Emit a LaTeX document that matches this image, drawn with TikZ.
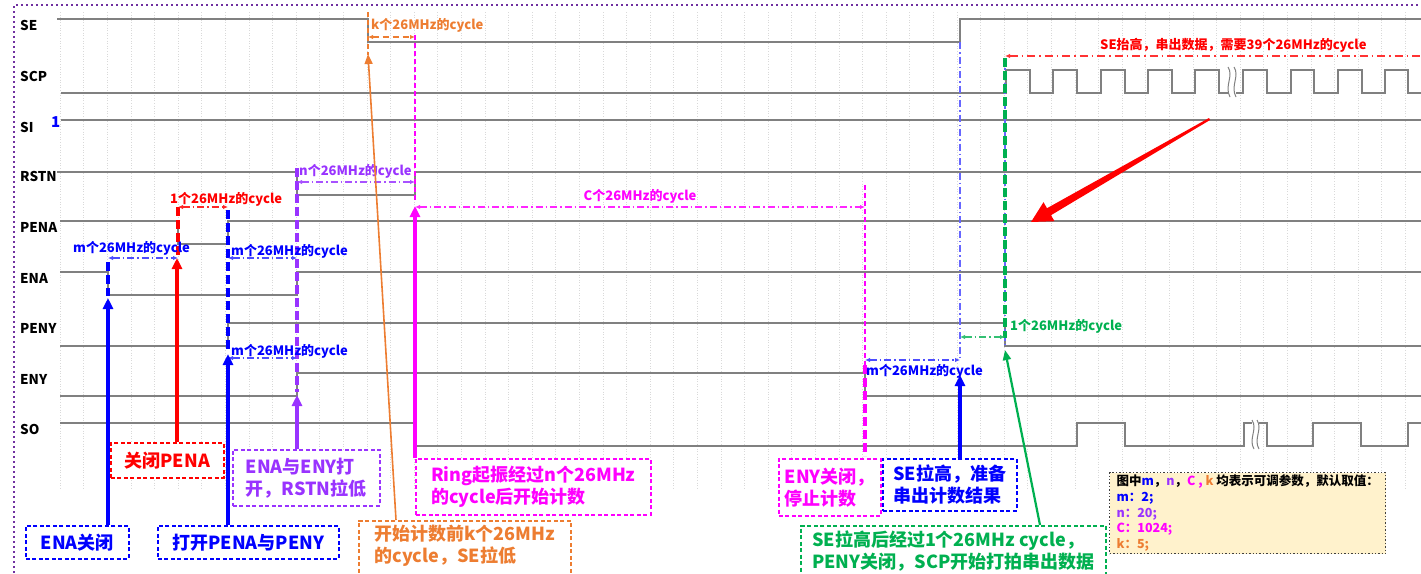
\documentclass[tikz,border=0pt]{standalone}
\usepackage{fontspec}
\setmainfont{Noto Sans CJK SC}
\usetikzlibrary{arrows.meta}

\definecolor{cBlue}{RGB}{0,0,255}
\definecolor{cRed}{RGB}{255,0,0}
\definecolor{cPurple}{RGB}{153,51,255}
\definecolor{cMagenta}{RGB}{255,0,255}
\definecolor{cOrange}{RGB}{237,125,49}
\definecolor{cGreen}{RGB}{0,176,80}
\definecolor{cWave}{RGB}{128,128,128}
\definecolor{cFrame}{RGB}{112,48,160}
\definecolor{cNote}{RGB}{255,242,204}

\begin{document}
\begin{tikzpicture}[
    x=1pt, y=-1pt,
    wave/.style={cWave, line width=1.6pt},
    siglabel/.style={anchor=west, inner sep=0pt, font=\bfseries\fontsize{13.5}{16}\selectfont},
    cyc/.style={anchor=west, inner sep=0pt, font=\bfseries\fontsize{13}{15}\selectfont},
    dim/.style={{Latex[length=5pt,width=4.5pt]}-{Latex[length=5pt,width=4.5pt]}, line width=1.2pt, dash pattern=on 7pt off 3pt on 1.5pt off 3pt},
    vthin/.style={line width=1.4pt, dash pattern=on 5pt off 3pt},
    vthick/.style={line width=3.2pt, dash pattern=on 9pt off 4pt},
    callout/.style={-{Triangle[length=11pt,width=10pt]}, line width=3.2pt},
    box/.style={draw, line width=1.6pt, dash pattern=on 4pt off 2.5pt, fill=white, anchor=north west, align=left, inner xsep=8pt, inner ysep=0pt, font=\bfseries\fontsize{18}{22}\selectfont},
    notebox/.style={draw=black!75, fill=cNote, line width=1.4pt, dotted, anchor=north west, align=left, inner xsep=4pt, inner ysep=0pt, minimum width=276pt, minimum height=81pt, font=\bfseries\fontsize{12.5}{15.7}\selectfont}
]
    \useasboundingbox (0,0) rectangle (1421,573);

    % frame and faint grid
    \draw[cFrame, line width=2pt, dash pattern=on 2pt off 3pt] (14,573) -- (14,5) -- (1421,5);
    \foreach \i in {0,...,57}
        \draw[gray!30, line width=0.6pt, dotted] ({60+23.6*\i},12) -- ({60+23.6*\i},490);

    % signal names
    \foreach \name/\y in {SE/25,SCP/76,SI/127,RSTN/176,PENA/227,ENA/278,PENY/328,ENY/379,SO/429}
        \node[siglabel] (lbl\name) at (20,\y) {\name};
    \node[siglabel, text=cBlue, font=\bfseries\fontsize{15}{16}\selectfont] (lblOne) at (51,122) {1};

    % waveforms
    \draw[wave] (57,19) -- (368,19) -- (368,42) -- (960,42) -- (960,19) -- (1421,19);
    \draw[wave] (61,93) -- (1006,93)
        \foreach \a/\b in {1006/1030,1053/1077,1101/1125,1148/1172,1195/1219} { -- (\a,93) -- (\a,70) -- (\b,70) -- (\b,93) } -- (1228,93);
    \draw[wave] (1236,93)
        \foreach \a/\b in {1243/1267,1291/1314,1338/1362,1385/1408} { -- (\a,93) -- (\a,70) -- (\b,70) -- (\b,93) } -- (1421,93);
    \draw[wave, line width=1pt] (1228,67) .. controls (1234,76) and (1224,86) .. (1230,97);
    \draw[wave, line width=1pt] (1234,67) .. controls (1240,76) and (1230,86) .. (1236,97);
    \draw[wave] (61,120) -- (1421,120);
    \draw[wave] (57,172) -- (297,172) -- (297,195) -- (415,195) -- (415,172) -- (1421,172);
    \draw[wave] (60,221) -- (178,221) -- (178,244) -- (228,244) -- (228,221) -- (1421,221);
    \draw[wave] (60,272) -- (108,272) -- (108,295) -- (297,295) -- (297,272) -- (1421,272);
    \draw[wave] (60,346) -- (228,346) -- (228,323) -- (1005,323) -- (1005,346) -- (1421,346);
    \draw[wave] (60,396) -- (297,396) -- (297,373) -- (865,373) -- (865,396) -- (1421,396);
    \draw[wave] (60,423) -- (415,423) -- (415,446) -- (1077,446) -- (1077,423) -- (1125,423) -- (1125,446)
        -- (1244,446) -- (1244,423) -- (1252,423);
    \draw[wave] (1259,423) -- (1267,423) -- (1267,446) -- (1313,446) -- (1313,423) -- (1361,423) -- (1361,446)
        -- (1408,446) -- (1408,423) -- (1421,423);
    \draw[wave, line width=1pt] (1252,420) .. controls (1258,429) and (1248,439) .. (1254,449);
    \draw[wave, line width=1pt] (1257,420) .. controls (1263,429) and (1253,439) .. (1259,449);

    % edge markers
    \draw[vthick, cBlue] (108,262) -- (108,296);
    \draw[vthick, cRed] (178,207) -- (178,255);
    \draw[vthick, cBlue] (228,210) -- (228,350);
    \draw[vthick, cPurple] (297,168) -- (297,392);
    \draw[vthin, cOrange] (368,12) -- (368,55);
    \draw[vthin, cMagenta] (415,35) -- (415,200);
    \draw[vthin, cMagenta] (865,185) -- (865,365);
    \draw[vthick, cMagenta] (865,365) -- (865,456);
    \draw[cBlue!60, line width=1.2pt, dash pattern=on 7pt off 3pt on 1.5pt off 3pt] (960,42) -- (960,360);
    \draw[cBlue!60, line width=1.2pt, dash pattern=on 7pt off 3pt on 1.5pt off 3pt] (1005,58) -- (1005,345);
    \draw[vthick, cGreen] (1005,58) -- (1005,338);

    % cycle counts
    \draw[dim, cOrange, dash pattern=on 6pt off 4pt] (368,37) -- (415,37);
    \node[cyc, text=cOrange] (cycK) at (371,25) {k个26MHz的cycle};
    \draw[dim, cPurple!85] (297,182) -- (415,182);
    \node[cyc, text=cPurple] (cycN) at (299,171) {n个26MHz的cycle};
    \draw[dim, cRed!85] (178,207) -- (228,207);
    \node[cyc, text=cRed] (cycOne) at (170,199) {1个26MHz的cycle};
    \draw[dim, cBlue!70] (108,258) -- (178,258);
    \node[cyc, text=cBlue] (cycMa) at (73,248) {m个26MHz的cycle};
    \draw[dim, cBlue!70] (228,258) -- (297,258);
    \node[cyc, text=cBlue] (cycMb) at (231,251) {m个26MHz的cycle};
    \draw[dim, cBlue!70] (228,358) -- (297,358);
    \node[cyc, text=cBlue] (cycMc) at (231,351) {m个26MHz的cycle};
    \draw[dim, cMagenta!85] (415,207) -- (865,207);
    \node[cyc, text=cMagenta, anchor=center] (cycC) at (640,196) {C个26MHz的cycle};
    \draw[dim, cBlue!70] (865,360) -- (960,360);
    \node[cyc, text=cBlue] (cycMd) at (866,371) {m个26MHz的cycle};
    \draw[dim, cGreen!80] (960,337) -- (1005,337);
    \node[cyc, text=cGreen] (cycG) at (1010,326) {1个26MHz的cycle};
    \draw[{Latex[length=5pt,width=4.5pt]}-, cRed!80, line width=1.2pt, dash pattern=on 8pt off 4pt on 1.5pt off 4pt] (1005,56) -- (1421,56);
    \node[cyc, text=cRed] (cycSCP) at (1100,45) {SE抬高，串出数据，需要39个26MHz的cycle};

    % big red pointer
    \fill[cRed] (1209,118) -- (1047,208.2) -- (1043.5,202.2) -- (1031,222) -- (1054.5,221.2) -- (1051,215.2) -- (1210,120) -- cycle;

    % arrow targets
    \coordinate (aENAoff) at (108,298);
    \coordinate (aPENAoff) at (177,258);
    \coordinate (aPENon) at (228,354);
    \coordinate (aRSTN) at (297,395);
    \coordinate (aRing) at (415,206);
    \coordinate (aSElow) at (368,54);
    \coordinate (aSEhigh) at (960,375);
    \coordinate (aSCP) at (1005,350);

    % callout boxes
    \node[box, draw=cBlue, text=cBlue, minimum width=103pt, minimum height=33pt] (bENAoff) at (25,525) {ENA关闭};
    \node[box, draw=cRed, text=cRed, minimum width=113pt, minimum height=35pt] (bPENAoff) at (110,442) {关闭PENA};
    \node[box, draw=cBlue, text=cBlue, minimum width=181pt, minimum height=33pt] (bPENon) at (157,525) {打开PENA与PENY};
    \node[box, draw=cPurple, text=cPurple, minimum width=147pt, minimum height=56pt] (bRSTN) at (232,449) {ENA与ENY打\\开，RSTN拉低};
    \node[box, draw=cMagenta, text=cMagenta, minimum width=235pt, minimum height=56pt] (bRing) at (415,458) {Ring起振经过n个26MHz\\的cycle后开始计数};
    \node[box, draw=cOrange, text=cOrange, minimum width=212pt, inner ysep=4pt] (bSElow) at (358,520) {开始计数前k个26MHz\\的cycle，SE拉低\\~};
    \node[box, draw=cMagenta, text=cMagenta, minimum width=102pt, minimum height=57pt, inner xsep=6pt] (bENYoff) at (778,458) {ENY关闭，\\停止计数};
    \node[box, draw=cBlue, text=cBlue, minimum width=134pt, minimum height=52pt] (bSEhigh) at (882,458) {SE拉高，准备\\串出计数结果};
    \node[box, draw=cGreen, text=cGreen, minimum width=305pt, inner ysep=5pt] (bSCP) at (800,525) {SE拉高后经过1个26MHz cycle，\\PENY关闭，SCP开始打拍串出数据\\~};

    \draw[callout, cBlue] (bENAoff.north -| aENAoff) -- (aENAoff);
    \draw[callout, cRed] (bPENAoff.north -| aPENAoff) -- (aPENAoff);
    \draw[callout, cBlue] (bPENon.north -| aPENon) -- (aPENon);
    \draw[callout, cPurple] (bRSTN.north -| aRSTN) -- (aRSTN);
    \draw[callout, cMagenta] (bRing.north west) -- (aRing);
    \draw[callout, cBlue] (bSEhigh.north -| aSEhigh) -- (aSEhigh);
    \draw[-{Triangle[length=10pt,width=8pt]}, cOrange, line width=1.6pt] ([xshift=38pt]bSElow.north west) -- (aSElow);
    \draw[-{Triangle[length=10pt,width=8pt]}, cGreen, line width=2.2pt] ([xshift=240pt]bSCP.north west) -- (aSCP);

    % parameter note
    \node[notebox] (note) at (1109,472) {图中\textcolor{cBlue}{m}，\textcolor{cPurple}{n}，\textcolor{cMagenta}{C ,} \textcolor{cOrange}{k} 均表示可调参数，默认取值：\\
        \textcolor{cBlue}{m：2;}\\ \textcolor{cPurple}{n：20;}\\ \textcolor{cMagenta}{C：1024;}\\ \textcolor{cOrange}{k：5;}};
\end{tikzpicture}
\end{document}
